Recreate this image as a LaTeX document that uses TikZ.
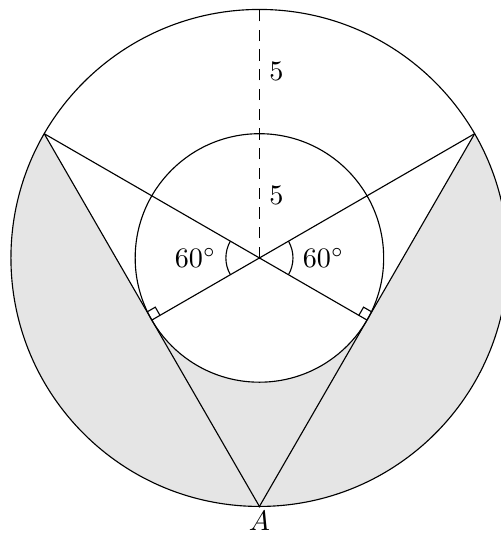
\documentclass[tikz,border=0pt]{standalone}
\usepackage{tikz}
\usetikzlibrary{calc}

\begin{document}
\begin{tikzpicture}[
    scale=0.31,
    shade_fill/.style={fill=gray!20, draw=none},
    seg_line/.style={draw=black},
    dash_line/.style={dash pattern=on 4pt off 3pt},
    dot/.style={fill=black},
    lbl/.style={inner sep=3.3pt}
]
\useasboundingbox (-10.44,-11.27) rectangle (9.72,10.38);

% --- Points ---
\coordinate (O) at (0,0);
\coordinate (A) at (0,-10);
\coordinate (top) at (0,10);
\coordinate (BL) at (150:10);
\coordinate (BR) at (30:10);
\coordinate (TL) at (210:5);
\coordinate (TR) at (-30:5);

% --- Gray regions ---
\fill[shade_fill] (BL) arc (150:270:10) -- cycle;
\fill[shade_fill] (A) arc (270:390:10) -- cycle;
\fill[shade_fill] (TL) -- (A) -- (TR) arc (-30:-150:5) -- cycle;

% Circles
\draw (O) circle (10);
\draw (O) circle (5);

% Lines
\draw[seg_line] (A) -- (BL);
\draw[seg_line] (A) -- (BR);
\draw[seg_line] (BL) -- (TR);
\draw[seg_line] (BR) -- (TL);
\draw[dash_line] (O) -- (top);

% Right angle marks
\draw ($(TL)+(30:0.38)$) -- ++(120:0.38) -- ++(210:0.38);
\draw ($(TR)+(150:0.38)$) -- ++(60:0.38) -- ++(-30:0.38);

% Angle arcs
\draw ([shift={(150:1.35)}]O) arc (150:210:1.35);
\draw ([shift={(-30:1.35)}]O) arc (-30:30:1.35);
\node[lbl, left] (ang_l) at (180:1.35) {$60^\circ$};
\node[lbl, right] (ang_r) at (0:1.35) {$60^\circ$};

% Length labels
\node[lbl, right] (len_in) at (0,2.5) {$5$};
\node[lbl, right] (len_out) at (0,7.5) {$5$};

% Dots
\fill[dot] (O) circle (1.3pt);
\fill[dot] (A) circle (1.3pt);
\node[below, inner sep=1.5pt] (A_label) at (A) {$A$};

\end{tikzpicture}
\end{document}
